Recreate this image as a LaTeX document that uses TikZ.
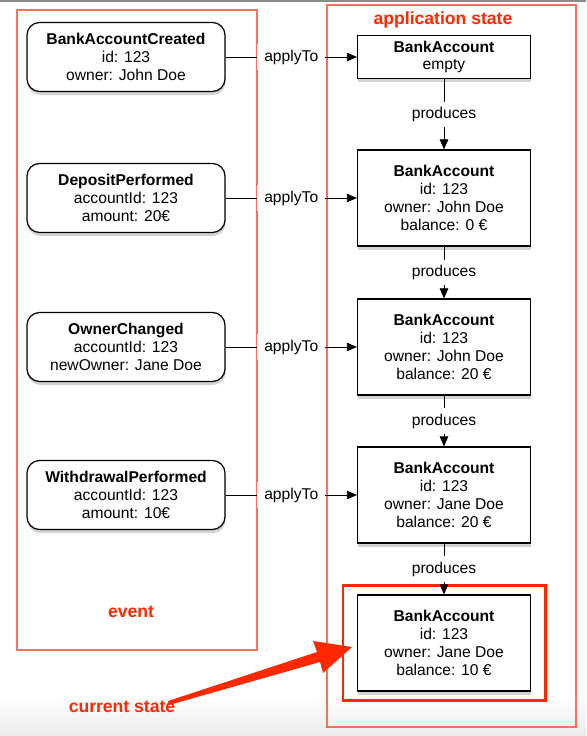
\documentclass[tikz,border=0pt]{standalone}
\usepackage{fontspec}
\setmainfont{Liberation Sans}
\usetikzlibrary{arrows.meta,shadows,fit}

\definecolor{framered}{RGB}{250,112,96}
\definecolor{labelred}{RGB}{255,40,0}

\begin{document}
\begin{tikzpicture}[x=0.02cm, y=-0.02cm,
    font=\fontsize{8.9}{10.2}\selectfont,
    >={Triangle[length=2mm,width=1.7mm]},
    event/.style={draw, line width=0.7pt, rounded corners=0.25cm, fill=white,
      align=center, minimum width=3.96cm, minimum height=1.38cm, inner sep=0pt,
      drop shadow={shadow xshift=0.3pt, shadow yshift=-2pt, opacity=0.35}},
    state/.style={draw, line width=0.7pt, fill=white, align=center,
      minimum width=3.46cm, minimum height=1.92cm, inner sep=0pt,
      drop shadow={shadow xshift=0.3pt, shadow yshift=-2pt, opacity=0.35}},
    region/.style={draw=framered, line width=0.6pt},
    tag/.style={text=labelred, font=\fontsize{10}{12}\selectfont\bfseries},
    step label/.style={midway, fill=white, inner xsep=4pt, inner ysep=3pt}]

    \fill[black!45] (0,0) rectangle (586,2);
    \shade[top color=white, bottom color=black!8] (0,695) rectangle (586,736);
    \useasboundingbox (0,0) rectangle (586,736);

    \draw[region] (17,10) rectangle (257,650);
    \draw[region] (327,5) rectangle (576,727);

    \node[event] (created)    at (126,57)  {\textbf{BankAccountCreated}\\id: 123\\owner: John Doe};
    \node[event] (deposit)    at (126,198) {\textbf{DepositPerformed}\\accountId: 123\\amount: 20€};
    \node[event] (renamed)    at (126,347) {\textbf{OwnerChanged}\\accountId: 123\\newOwner: Jane Doe};
    \node[event] (withdrawal) at (126,495) {\textbf{WithdrawalPerformed}\\accountId: 123\\amount: 10€};

    \node[state, minimum height=0.86cm] (empty) at (444,57) {\textbf{BankAccount}\\empty};
    \node[state] (state one)   at (444,198) {\textbf{BankAccount}\\id: 123\\owner: John Doe\\balance: 0 €};
    \node[state] (state two)   at (444,347) {\textbf{BankAccount}\\id: 123\\owner: John Doe\\balance: 20 €};
    \node[state] (state three) at (444,495) {\textbf{BankAccount}\\id: 123\\owner: Jane Doe\\balance: 20 €};
    \node[state] (state four)  at (444,643) {\textbf{BankAccount}\\id: 123\\owner: Jane Doe\\balance: 10 €};

    \node[draw=labelred, line width=1.6pt, fit=(state four), inner xsep=0.28cm, inner ysep=0.17cm] (current frame) {};

    \node[tag] (app tag)     at (443,20)  {application state};
    \node[tag] (event tag)   at (131,612) {event};
    \node[tag] (current tag) at (122,707) {current state};

    \draw[->] (created) -- (empty) node [step label] {applyTo};
    \draw[->] (deposit) -- (state one) node [step label] {applyTo};
    \draw[->] (renamed) -- (state two) node [step label] {applyTo};
    \draw[->] (withdrawal) -- (state three) node [step label] {applyTo};
    \draw[->] (empty) -- (state one) node [step label] {produces};
    \draw[->] (state one) -- (state two) node [step label] {produces};
    \draw[->] (state two) -- (state three) node [step label] {produces};
    \draw[->] (state three) -- (state four) node [step label] {produces};

    \fill[labelred] (168,701) -- (317,652) -- (313,641) -- (352,647) -- (323,673) -- (320,662) -- (169,705) -- cycle;
\end{tikzpicture}
\end{document}
